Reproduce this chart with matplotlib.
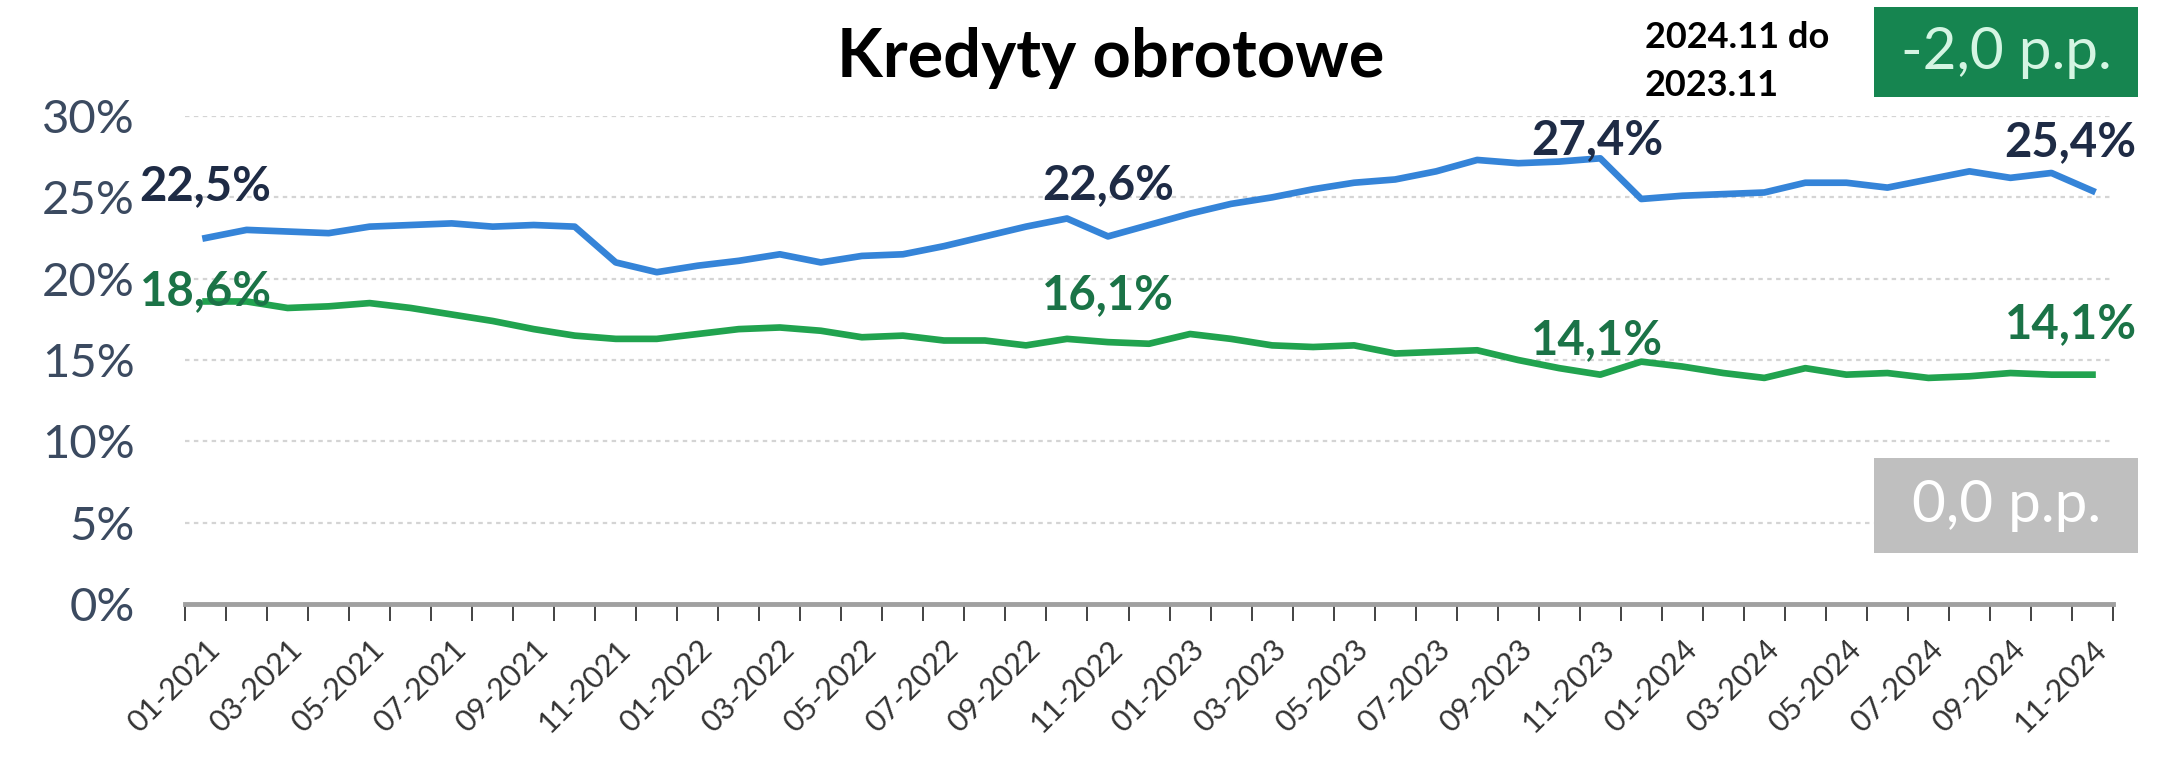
import matplotlib.pyplot as plt
import numpy as np

plt.rcParams['font.family'] = ['Lato', 'DejaVu Sans']

months = [f'{m:02d}-{y}' for y in range(2021, 2025) for m in range(1, 13)][:47]

blue = [22.5, 23.0, 22.9, 22.8, 23.2, 23.3, 23.4, 23.2, 23.3, 23.2,
        21.0, 20.4, 20.8, 21.1, 21.5, 21.0, 21.4, 21.5, 22.0, 22.6,
        23.2, 23.7, 22.6, 23.3, 24.0, 24.6, 25.0, 25.5, 25.9, 26.1,
        26.6, 27.3, 27.1, 27.2, 27.4, 24.9, 25.1, 25.2, 25.3, 25.9,
        25.9, 25.6, 26.1, 26.6, 26.2, 26.5, 25.4]
green = [18.6, 18.6, 18.2, 18.3, 18.5, 18.2, 17.8, 17.4, 16.9, 16.5,
         16.3, 16.3, 16.6, 16.9, 17.0, 16.8, 16.4, 16.5, 16.2, 16.2,
         15.9, 16.3, 16.1, 16.0, 16.6, 16.3, 15.9, 15.8, 15.9, 15.4,
         15.5, 15.6, 15.0, 14.5, 14.1, 14.9, 14.6, 14.2, 13.9, 14.5,
         14.1, 14.2, 13.9, 14.0, 14.2, 14.1, 14.1]

yticks = [0, 5, 10, 15, 20, 25, 30]

# labelled points: index, offset in pixels (dx, dy)
blue_labels = [(0, 0, 52), (22, 0, 51), (34, -3, 18), (46, -22, 49)]
green_labels = [(0, 0, 10), (22, 0, 47), (34, -3, 35), (46, -21, 51)]

blue_c = '#3584D8'
green_c = '#21A34F'
blue_txt = '#1E2B45'
green_txt = '#1B7347'

fig = plt.figure(figsize=(21.77, 7.71), dpi=100)
ax = fig.add_axes([0.085, 0.2166, 0.8856, 0.6329])

x = np.arange(len(months))
ax.plot(x, blue, color=blue_c, linewidth=4.8, solid_joinstyle='round', zorder=3)
ax.plot(x, green, color=green_c, linewidth=4.8, solid_joinstyle='round', zorder=3)

for i, dx, dy in blue_labels:
    ax.annotate(f'{blue[i]:.1f}%'.replace('.', ','), (x[i], blue[i]),
                xytext=(dx, dy), textcoords='offset pixels', ha='center', va='center',
                fontsize=34, fontweight='bold', color=blue_txt, zorder=4)
for i, dx, dy in green_labels:
    ax.annotate(f'{green[i]:.1f}%'.replace('.', ','), (x[i], green[i]),
                xytext=(dx, dy), textcoords='offset pixels', ha='center', va='center',
                fontsize=34, fontweight='bold', color=green_txt, zorder=4)

ax.set_xlim(-0.5, len(months) - 0.5)
ax.set_ylim(0, 30)
ax.set_yticks(yticks)
ax.set_yticklabels([f'{v}%' for v in yticks], fontsize=34, color='#3B4A60')
for v in yticks[1:]:
    ax.axhline(v, color='#D4D4D4', linewidth=1.6, linestyle=(0, (2, 2)), zorder=1)

ax.set_xticks(x[::2])
ax.set_xticklabels(months[::2], rotation=45, ha='right', rotation_mode='anchor',
                   fontsize=22, color='#333333')
ax.set_xticks(np.arange(-0.5, len(months)), minor=True)
ax.tick_params(axis='x', which='major', length=0, pad=22)
ax.tick_params(axis='x', which='minor', length=12, width=1.2, color='#222222', direction='out')
ax.tick_params(axis='y', length=0, pad=36)

for s in ['top', 'right', 'left']:
    ax.spines[s].set_visible(False)
ax.spines['bottom'].set_color('#A0A0A0')
ax.spines['bottom'].set_linewidth(3.5)

fig.text(0.51, 0.925, 'Kredyty obrotowe', ha='center', va='center',
         fontsize=48, fontweight='bold', color='black')
fig.text(0.7556, 0.952, '2024.11 do', ha='left', va='center', fontsize=26, fontweight='bold')
fig.text(0.7556, 0.889, '2023.11', ha='left', va='center', fontsize=26, fontweight='bold')

fig.patches.append(plt.Rectangle((0.861, 0.874), 0.121, 0.117, transform=fig.transFigure,
                                 facecolor='#168550', edgecolor='none'))
fig.text(0.9215, 0.932, '-2,0 p.p.', ha='center', va='center', fontsize=42, color='#D5F5E3')
fig.patches.append(plt.Rectangle((0.861, 0.283), 0.121, 0.123, transform=fig.transFigure,
                                 facecolor='#BFBFBF', edgecolor='none'))
fig.text(0.9215, 0.345, '0,0 p.p.', ha='center', va='center', fontsize=42, color='white')

fig.savefig('out.png', dpi=100)
